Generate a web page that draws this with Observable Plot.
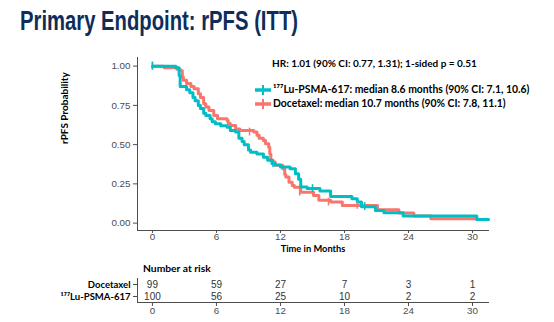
<!DOCTYPE html>
<html>
<head>
<meta charset="utf-8">
<script src="https://cdn.jsdelivr.net/npm/d3@7"></script>
<script src="https://cdn.jsdelivr.net/npm/@observablehq/plot@0.6"></script>
<style>
  html, body { margin: 0; padding: 0; background: #fff; }
  #root { position: relative; width: 554px; height: 322px; overflow: hidden; font-family: "Liberation Sans", Arial, sans-serif; }
  #title { position: absolute; left: 20px; top: 6px; font-family: "Liberation Sans Narrow", "Liberation Sans", Arial, sans-serif; font-weight: bold; font-size: 27px; color: #0e2d5a; white-space: nowrap; transform-origin: 0 0; }
  .lg { position: absolute; font-family: Lato, "Open Sans", sans-serif; font-weight: bold; font-size: 10px; color: #000; white-space: nowrap; }
  .plot { position: absolute; left: 0; }
</style>
</head>
<body>
<div id="root">
  <div id="title">Primary Endpoint: rPFS (ITT)</div>
</div>
<script>
// ---- data ----
const arms = ["Docetaxel", "¹⁷⁷Lu-PSMA-617"];
const armColors = ["#F8766D", "#00BFC4"];

const docTime = [0, 1.1, 2.3, 2.6, 2.8, 2.9, 3.2, 3.6, 3.9, 4.3, 4.5, 4.8, 5.0, 5.3, 5.75, 6.1, 7.0, 7.1, 7.3, 7.8, 8.2, 9.5, 9.8, 10.0, 10.4, 10.6, 10.9, 11.0, 11.1, 11.3, 11.5, 12.2, 12.4, 12.5, 12.8, 13.1, 13.3, 13.9, 15.1, 15.6, 16.7, 17.8, 21.1, 23.1, 24.5, 26.1, 30.3];
const docSurv = [1.0, 0.99, 0.98, 0.97, 0.93, 0.91, 0.89, 0.87, 0.856, 0.824, 0.80, 0.76, 0.74, 0.718, 0.686, 0.665, 0.654, 0.635, 0.622, 0.60, 0.59, 0.58, 0.56, 0.54, 0.527, 0.506, 0.484, 0.44, 0.40, 0.39, 0.368, 0.346, 0.31, 0.293, 0.261, 0.24, 0.229, 0.197, 0.176, 0.145, 0.134, 0.113, 0.085, 0.065, 0.045, 0.028, 0.028];

const luTime = [0, 2.2, 2.5, 2.6, 3.2, 3.5, 3.8, 4.0, 4.3, 4.5, 4.8, 5.0, 5.4, 5.6, 5.9, 6.4, 7.0, 7.3, 7.8, 8.1, 8.4, 8.6, 9.0, 9.2, 9.8, 10.4, 10.8, 11.2, 11.5, 12.0, 12.9, 13.4, 13.7, 13.9, 14.5, 15.7, 16.7, 18.7, 19.2, 19.6, 20.9, 21.7, 23.5, 30.4, 31.5];
const luSurv = [1.0, 0.99, 0.94, 0.87, 0.85, 0.83, 0.80, 0.78, 0.75, 0.73, 0.70, 0.686, 0.665, 0.645, 0.633, 0.62, 0.61, 0.59, 0.58, 0.54, 0.52, 0.50, 0.465, 0.452, 0.44, 0.42, 0.40, 0.38, 0.37, 0.357, 0.346, 0.315, 0.28, 0.23, 0.22, 0.204, 0.17, 0.155, 0.134, 0.105, 0.081, 0.066, 0.045, 0.023, 0.023];

// censor marks
const docCensTime = [0, 9.1, 13.8, 16.5, 19.2];
const docCensSurv = [1.0, 0.58, 0.197, 0.134, 0.113];
const luCensTime = [0, 11.3, 15.0, 19.9];
const luCensSurv = [1.0, 0.38, 0.22, 0.105];

const xTicks = [0, 6, 12, 18, 24, 30];
const yTicks = [0, 0.25, 0.5, 0.75, 1.0];
const riskDoc = [99, 59, 27, 7, 3, 1];
const riskLu = [100, 56, 25, 10, 2, 2];

const hrText = "HR: 1.01 (90% CI: 0.77, 1.31); 1-sided p = 0.51";
const legendLabels = ["¹⁷⁷Lu-PSMA-617: median 8.6 months (90% CI: 7.1, 10.6)", "Docetaxel: median 10.7 months (90% CI: 7.8, 11.1)"];
const legendColors = ["#00BFC4", "#F8766D"];

// ---- build tables ----
const curves = [
  ...docTime.map((t, i) => ({arm: arms[0], t, s: docSurv[i]})),
  ...luTime.map((t, i) => ({arm: arms[1], t, s: luSurv[i]}))
];
const cens = [
  ...docCensTime.map((t, i) => ({arm: arms[0], t, s: docCensSurv[i]})),
  ...luCensTime.map((t, i) => ({arm: arms[1], t, s: luCensSurv[i]}))
];
const risk = [
  ...xTicks.map((t, i) => ({arm: arms[0], t, n: riskDoc[i]})),
  ...xTicks.map((t, i) => ({arm: arms[1], t, n: riskLu[i]}))
];

const xDomain = [-1.4, 31.5];
const root = document.getElementById("root");

const main = Plot.plot({
  width: 554, height: 260,
  marginLeft: 137, marginRight: 66, marginTop: 57, marginBottom: 30,
  style: {fontFamily: "'Liberation Sans', Arial, sans-serif", fontSize: "9.8px", color: "#4d4d4d", background: "transparent"},
  x: {domain: xDomain, ticks: xTicks, tickFormat: d => d, tickSize: 3, tickPadding: 0, label: null, line: true},
  y: {domain: [-0.047, 1.055], ticks: yTicks, tickFormat: d3.format(".2f"), tickSize: 4, tickPadding: 3, label: null, line: true},
  color: {domain: arms, range: armColors},
  marks: [
    Plot.line(curves, {x: "t", y: "s", z: "arm", stroke: "arm", curve: "step-after", strokeWidth: 3}),
    Plot.ruleX(cens, {x: "t", y1: d => d.s - 0.025, y2: d => d.s + 0.025, stroke: "arm", strokeWidth: 1.5}),
    Plot.text(["Time in Months"], {frameAnchor: "bottom", dy: 21.5, fontWeight: "bold", fontSize: 9.3, fill: "#000", fontFamily: "Lato, sans-serif"}),
    Plot.text(["rPFS Probability"], {frameAnchor: "left", dx: -73, rotate: -90, fontWeight: "bold", fontSize: 10, fill: "#000", fontFamily: "Lato, sans-serif"})
  ]
});
main.classList.add("plot");
main.style.top = "0px";
root.appendChild(main);

const table = Plot.plot({
  width: 554, height: 62,
  marginLeft: 137, marginRight: 66, marginTop: 18, marginBottom: 20,
  style: {fontFamily: "'Liberation Sans', Arial, sans-serif", fontSize: "9.8px", color: "#4d4d4d", background: "transparent"},
  x: {domain: xDomain, ticks: xTicks, tickFormat: d => d, tickSize: 4, tickPadding: 1, label: null, line: true},
  y: {type: "point", domain: arms, padding: 0.5, tickSize: 4, tickPadding: 3, label: null, line: true, tickFormat: d => d},
  marks: [
    Plot.text(risk, {x: "t", y: "arm", text: "n", fill: "#333", fontSize: 10})
  ]
});
table.classList.add("plot");
table.style.top = "260px";
table.querySelectorAll("g[aria-label='y-axis'] text, g[aria-label='y-axis tick label'] text").forEach(t => {
  t.setAttribute("font-weight", "bold"); t.setAttribute("fill", "#000"); t.style.fontFamily = "Lato, sans-serif"; t.style.fontSize = "9.5px";
});
root.appendChild(table);

// "Number at risk" label
const nar = document.createElement("div");
nar.className = "lg";
nar.textContent = "Number at risk";
nar.style.left = "143px"; nar.style.top = "262px"; nar.style.fontSize = "10.3px";
root.appendChild(nar);

// HR line & legend
const hr = document.createElement("div");
hr.className = "lg"; hr.textContent = hrText;
hr.style.left = "272px"; hr.style.top = "57px";
root.appendChild(hr);
legendLabels.forEach((lab, i) => {
  const y = 90 + i * 13.5;
  const sw = document.createElementNS("http://www.w3.org/2000/svg", "svg");
  sw.setAttribute("width", 18); sw.setAttribute("height", 12);
  sw.style.position = "absolute"; sw.style.left = "254px"; sw.style.top = (y - 6) + "px";
  sw.innerHTML = `<line x1="1" x2="17" y1="6" y2="6" stroke="${legendColors[i]}" stroke-width="3.5"/><line x1="9" x2="9" y1="1" y2="11" stroke="${legendColors[i]}" stroke-width="2"/>`;
  root.appendChild(sw);
  const d = document.createElement("div");
  d.className = "lg"; d.textContent = lab;
  d.style.left = "273px"; d.style.top = (y - 7) + "px"; d.style.fontSize = "10.4px";
  root.appendChild(d);
});

// fit title width to reference (~278px)
const title = document.getElementById("title");
const w = title.getBoundingClientRect().width;
title.style.transform = `scaleX(${278 / w})`;
</script>
</body>
</html>
